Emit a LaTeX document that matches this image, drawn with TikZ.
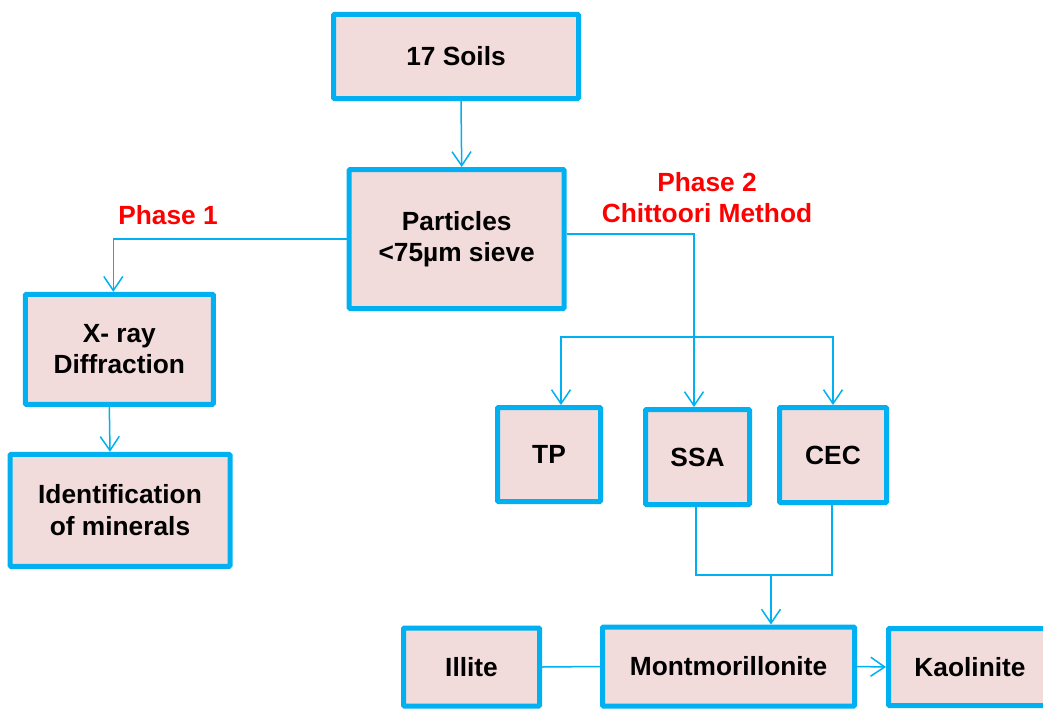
\documentclass[tikz,border=0pt]{standalone}
\usepackage{fontspec}
\setmainfont{Liberation Sans}
\usetikzlibrary{arrows.meta,calc}
\definecolor{fcBlue}{HTML}{00B0F0}
\definecolor{fcFill}{HTML}{F2DCDB}
\definecolor{fcRed}{HTML}{FF0000}

\begin{document}
\begin{tikzpicture}[x=1pt, y=-1pt,
  box/.style={draw=fcBlue, fill=fcFill, line width=5pt, rounded corners=1pt,
              inner sep=0pt, align=center, text=black,
              font=\bfseries\fontsize{26.3}{31.5}\selectfont},
  phase/.style={text=fcRed, inner sep=0pt, align=center,
                font=\bfseries\fontsize{26.3}{31.5}\selectfont},
  link/.style={draw=fcBlue, line width=1.5pt},
  flow/.style={link, -{Straight Barb[length=14pt, width=19pt]}},
]

% page = 1043 x 709 px, bottom row runs off the edge
\useasboundingbox (0,0) rectangle (1043,709);
\clip (0,0) rectangle (1043,709);

% top of the tree
\node[box, minimum width=245pt, minimum height=84pt]  (soils) at (456,56.5) {17 Soils};
\node[box, minimum width=215pt, minimum height=139pt] (parts) at (456.7,239) {Particles\\<75µm sieve};

% phase 1 branch
\node[phase] (ph1) at (168,215) {Phase 1};
\node[box, minimum width=188pt, minimum height=110pt] (xray)  at (119.3,349.3) {X- ray\\Diffraction};
\node[box, minimum width=220pt, minimum height=112pt] (ident) at (120,510.3) {Identification\\of minerals};

% phase 2 branch
\node[phase] (ph2) at (707,197.5) {Phase 2\\Chittoori Method};
\node[box, minimum width=103pt, minimum height=94pt] (tp)  at (549,454.5) {TP};
\node[box, minimum width=104pt, minimum height=95pt] (ssa) at (697.5,457) {SSA};
\node[box, minimum width=107pt, minimum height=95pt] (cec) at (833,455) {CEC};

% minerals
\node[box, minimum width=136pt, minimum height=78pt] (illite) at (471.5,667) {Illite};
\node[box, minimum width=252pt, minimum height=79pt] (mont)   at (728.5,666.5) {Montmorillonite};
\node[box, minimum width=163pt, minimum height=77pt] (kaol)   at (970,667) {Kaolinite};

\coordinate (br) at (694,337);   % split to TP / SSA / CEC
\coordinate (mg) at (771,575);   % join of SSA and CEC

\draw[flow] ([xshift=5pt]soils.south) -- ([xshift=5pt]parts.north);
\draw[flow] (parts.west) -| ([xshift=-6pt]xray.north);
\draw[flow] ([xshift=-10pt]xray.south) -- ([xshift=-10pt]ident.north);

\draw[flow] ([yshift=5pt]parts.east) -| ([xshift=-3.5pt]ssa.north);
\draw[flow] (br) -| ([xshift=12pt]tp.north);
\draw[flow] (br) -| (cec.north);

\draw[link] ([xshift=-1.5pt]ssa.south) |- (mg) -| ([xshift=-1pt]cec.south);
\draw[flow] (mg) -- (mg |- mont.north);

\draw[link] (illite.east) -- (mont.west);
\draw[flow] (mont.east) -- (kaol.west);

\end{tikzpicture}
\end{document}
